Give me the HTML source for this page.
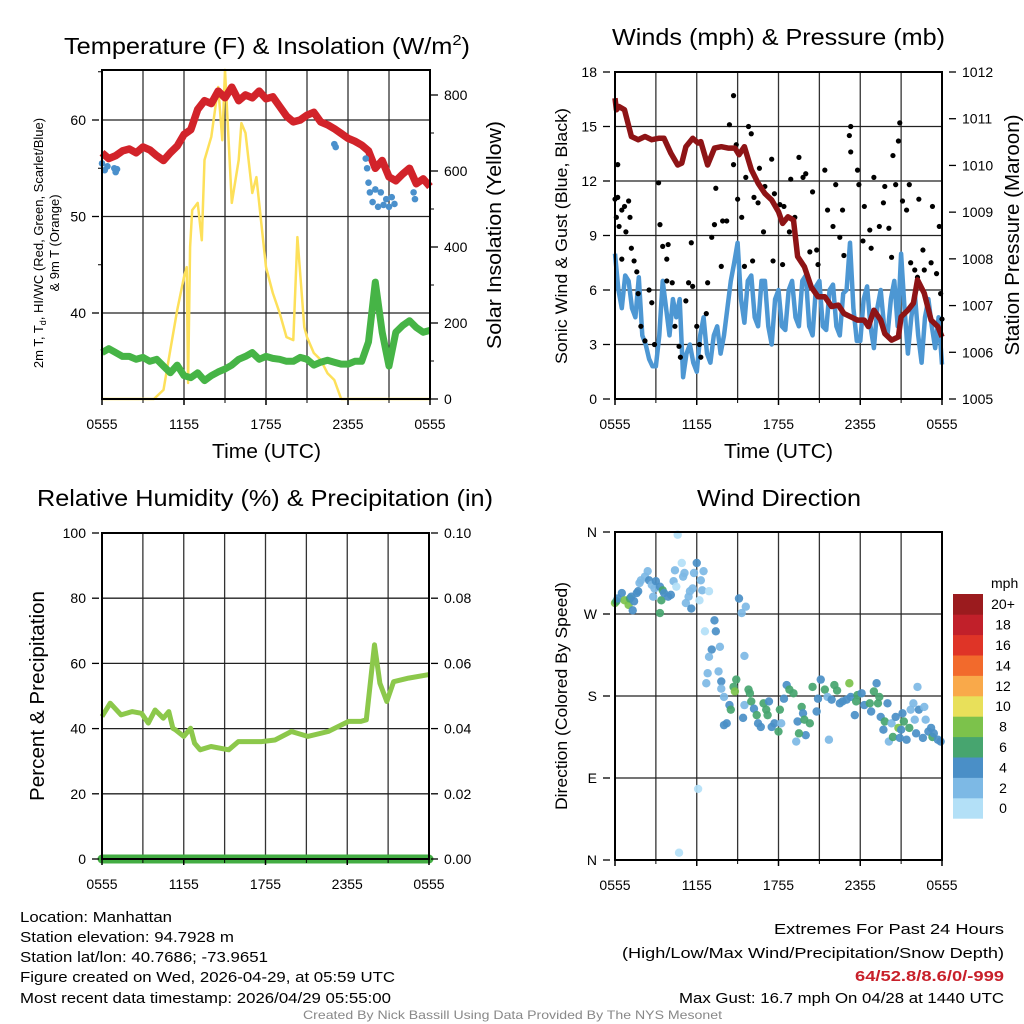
<!DOCTYPE html>
<html><head><meta charset="utf-8"><style>
html,body{margin:0;padding:0;background:#fff}
svg{display:block;font-family:"Liberation Sans",sans-serif}
</style></head><body>
<svg id="chart" width="1024" height="1024" viewBox="0 0 1024 1024" xmlns="http://www.w3.org/2000/svg">
<rect width="1024" height="1024" fill="#fff"/>
<g id="p1"></g>
<g id="p2"></g>
<g id="p3"></g>
<g id="p4"></g>
<g font-size="15" fill="#000">
<text x="20" y="922" textLength="152" lengthAdjust="spacingAndGlyphs">Location: Manhattan</text>
<text x="20" y="942" textLength="214" lengthAdjust="spacingAndGlyphs">Station elevation: 94.7928 m</text>
<text x="20" y="962" textLength="248" lengthAdjust="spacingAndGlyphs">Station lat/lon: 40.7686; -73.9651</text>
<text x="20" y="982" textLength="375" lengthAdjust="spacingAndGlyphs">Figure created on Wed, 2026-04-29, at 05:59 UTC</text>
<text x="20" y="1003" textLength="371" lengthAdjust="spacingAndGlyphs">Most recent data timestamp: 2026/04/29 05:55:00</text>
<text x="774" y="934" textLength="230" lengthAdjust="spacingAndGlyphs">Extremes For Past 24 Hours</text>
<text x="622" y="958" textLength="382" lengthAdjust="spacingAndGlyphs">(High/Low/Max Wind/Precipitation/Snow Depth)</text>
<text x="855" y="981" textLength="149" lengthAdjust="spacingAndGlyphs" fill="#c8202a" font-weight="bold">64/52.8/8.6/0/-999</text>
<text x="679" y="1003" textLength="325" lengthAdjust="spacingAndGlyphs">Max Gust: 16.7 mph On 04/28 at 1440 UTC</text>
<text x="303" y="1019" font-size="12" fill="#888" textLength="419" lengthAdjust="spacingAndGlyphs">Created By Nick Bassill Using Data Provided By The NYS Mesonet</text>
</g>
</svg>
<script>
// ---------- data ----------
const xTickLabels = ["0555","1155","1755","2355","0555"];
const tempRed = [56.6,56.0,56.3,56.8,57.0,56.6,57.2,56.9,56.3,55.8,56.6,57.3,58.5,59.0,61.1,62.0,61.7,63.0,62.3,63.4,62.0,62.6,62.3,63.0,62.2,62.4,61.4,60.4,59.8,60.0,60.5,60.8,59.8,59.5,59.1,58.6,58.1,57.8,57.4,56.8,55.0,55.8,54.1,53.7,54.4,55.0,53.4,53.9,53.1];
const hiwcGreen = [35.9,36.3,35.9,35.5,35.5,35.2,35.4,35.0,35.2,34.5,33.8,34.6,33.5,33.3,33.8,33.0,33.5,33.9,34.2,34.6,35.2,35.5,35.9,35.2,35.5,35.3,35.2,35.0,35.0,35.4,35.2,34.6,34.9,35.1,34.9,34.7,34.7,35.0,35.0,37.0,43.2,38.0,34.5,38.0,38.7,39.2,38.5,38.0,38.2];
const dewTimes = [0,0.2,0.4,0.9,1.0,1.1,17.0,17.1,19.3,19.4,19.5,19.6,19.8,20.0,20.2,20.4,20.6,20.8,21.0,21.2,21.4,22.8,22.9];
const dewVals = [55.5,54.8,55.2,55.0,54.6,54.9,57.5,57.2,56.0,55.0,53.5,52.5,51.5,52.8,51.0,52.5,51.2,51.8,51.0,52.0,51.3,52.5,51.8];
const solarTimes = [0,3.8,4.5,5.0,5.5,6.0,6.2,6.3,6.45,6.6,7.0,7.3,7.5,8.0,8.5,8.8,9.0,9.5,10.0,10.2,10.5,11.0,11.3,12.0,12.5,13.0,13.5,14.0,14.3,14.8,15.0,15.5,16.0,16.5,17.0,17.5,24];
const solarVals = [0,0,24,129,234,321,347,42,400,497,516,418,629,690,821,681,866,516,629,726,700,542,584,347,279,226,163,155,426,189,163,121,103,68,50,0,0];
const windVals = [8.0,6.0,5.0,6.8, 6.5,5.0,4.5,6.7, 3.5,3.0,2.2,1.8, 1.8,3.5,6.5,5.0, 3.5,5.5,4.5,5.5, 1.2,2.5,3.0,2.0, 1.5,3.5,4.5,2.5, 2.0,3.5,4.0,2.5, 3.5,5.0,6.5,7.5, 8.6,5.5,4.2,6.5, 6.8,4.5,4.0,6.5, 6.5,4.0,3.0,5.5, 6.0,4.0,3.8,6.0, 6.5,4.5,4.0,6.5, 6.8,4.0,3.5,6.2, 6.5,4.0,3.8,6.0, 6.3,4.0,3.5,5.8, 6.0,8.6,5.0,3.2, 3.2,5.5,6.2,4.0, 2.8,5.0,6.0,4.0, 3.5,5.5,6.5,4.0, 8.0,5.0,2.5,4.5, 5.8,3.5,2.0,4.5, 5.5,4.0,2.8,4.5, 1.9];
const gustTimes = [0.0,0.1,0.2,0.3,0.5,0.2,0.7,1.0,1.1,0.8,0.5,1.2,1.4,1.6,1.7,1.9,2.2,2.5,2.7,2.9,3.2,3.3,3.5,3.8,3.9,3.8,4.2,4.4,4.7,4.8,5.2,5.4,5.6,5.7,6.0,6.2,6.3,6.7,6.8,7.1,7.3,7.4,7.8,7.9,8.2,8.4,8.7,8.7,8.9,9.0,9.3,9.5,9.6,9.8,10.0,10.1,10.2,10.5,10.6,10.9,11.0,11.5,11.6,11.7,12.1,12.3,12.4,12.8,12.9,13.2,13.5,13.8,14.0,14.3,14.5,14.8,14.9,15.4,15.6,16.0,16.2,16.5,16.7,16.8,17.2,17.3,17.3,17.8,17.9,18.2,18.3,18.7,18.8,19.0,19.4,19.7,19.8,20.1,20.3,20.4,20.6,20.8,20.9,21.1,21.4,21.6,21.7,22.0,22.2,22.3,22.6,22.7,23.2,23.3,23.6,23.8,23.9,24.0];
const gustVals = [11.0,10.0,11.1,9.5,10.4,12.9,10.6,10.9,10.0,9.2,7.7,8.3,7.6,7.0,5.8,4.0,3.2,6.0,5.3,3.0,11.9,9.6,8.4,7.7,8.5,6.5,6.4,4.0,2.9,2.3,5.4,6.4,8.6,6.2,4.0,3.0,2.3,4.7,6.4,8.9,9.6,11.6,7.3,9.8,9.8,15.1,12.9,16.7,14.0,11.0,10.0,7.3,12.2,15.0,14.6,7.6,11.1,10.8,12.7,9.2,11.7,13.2,7.6,11.3,10.7,7.4,10.6,9.2,12.1,10.0,13.3,12.2,12.4,8.1,11.4,8.2,7.4,12.6,10.4,9.5,11.8,8.9,10.4,7.9,14.5,15.0,13.6,12.6,11.8,8.7,10.6,9.3,8.3,12.2,9.5,10.8,11.7,9.4,7.8,13.4,11.8,14.2,15.2,10.9,10.4,11.8,7.5,7.1,6.7,11.0,8.2,7.1,7.5,10.6,6.9,9.5,5.8,4.4];
const presTimes = [0,0.1,0.3,0.7,1.2,1.7,2.2,2.7,3.2,3.6,4.1,4.6,4.9,5.2,5.7,6.1,6.3,6.8,7.3,7.8,8.3,8.8,9.1,9.5,10.0,10.5,11.0,11.5,12.0,12.3,12.7,13.1,13.4,13.9,14.4,14.9,15.4,15.9,16.4,16.8,17.3,17.8,18.3,18.6,19.0,19.5,19.8,20.3,20.8,21.0,21.5,21.9,22.2,22.7,23.2,23.7,24.0];
const presVals = [1011.44,1011.19,1011.26,1011.19,1010.62,1010.55,1010.62,1010.55,1010.58,1010.58,1010.26,1010.01,1010.05,1010.40,1010.58,1010.48,1010.51,1010.01,1010.37,1010.40,1010.37,1010.37,1010.23,1010.40,1009.91,1009.62,1009.40,1009.26,1009.01,1008.76,1008.90,1008.83,1008.05,1007.83,1007.40,1007.19,1007.19,1006.98,1007.01,1006.83,1006.76,1006.69,1006.69,1006.55,1006.90,1006.69,1006.40,1006.26,1006.33,1006.76,1006.90,1007.05,1007.55,1007.26,1006.69,1006.55,1006.33];
const rhTimes = [0,0.6,1.4,2.2,2.9,3.4,3.9,4.5,4.9,5.2,5.4,6.0,6.5,6.8,7.2,8.0,9.3,10.0,11.7,12.7,13.9,15.1,16.6,18.1,19.0,19.4,20.0,20.4,20.9,21.4,22.5,23.9,24.0];
const rhVals = [43.7,47.8,44.2,45.2,44.7,41.7,45.7,43.2,45.2,40.1,39.6,37.6,40.1,35.5,33.5,34.5,33.5,36.0,36.0,36.5,39.1,37.6,39.1,42.2,42.2,42.7,65.7,53.9,48.3,54.4,55.5,56.5,56.5];
const precipVals = [0,0];
const dirTimes = [0.0,0.1,0.2,0.5,0.7,1.0,1.1,1.2,1.3,1.4,1.6,1.7,1.8,1.9,2.2,2.4,2.5,2.7,2.8,2.9,3.0,3.3,3.4,3.3,3.5,3.6,3.9,4.1,4.3,4.4,4.5,4.6,4.9,5.0,5.1,5.2,5.4,5.5,5.6,5.7,5.8,6.0,6.2,6.4,6.5,6.3,6.9,6.6,7.3,7.4,7.1,7.7,6.9,9.5,6.8,6.7,7.6,7.8,7.8,8.0,8.4,8.5,8.2,8.0,8.7,8.8,8.9,9.1,9.3,9.6,9.5,9.4,9.8,9.9,10.0,10.2,10.4,10.5,10.7,10.9,11.1,11.2,11.3,11.5,11.7,12.0,12.2,12.1,12.4,12.6,12.8,13.1,13.3,13.4,13.7,13.8,13.9,14.0,14.3,13.5,14.5,14.8,14.9,15.1,15.4,15.6,15.7,15.9,16.1,16.3,16.5,16.7,17.0,17.2,17.3,17.6,17.7,17.8,18.1,18.3,18.7,18.8,19.0,19.2,19.3,19.4,19.5,19.7,19.8,20.0,20.1,20.3,20.4,20.6,20.8,20.9,21.0,21.1,21.2,21.4,21.6,21.7,21.9,22.0,22.1,22.2,22.3,22.6,22.7,22.8,23.0,23.2,23.3,23.4,23.7,23.9,6.1,4.7];
const dirDegs = [282,284,287,293,285,280,287,289,274,284,293,295,304,307,311,317,307,302,289,298,306,300,285,271,296,293,289,291,306,318,300,357,326,311,315,282,289,295,276,298,315,326,285,296,317,307,295,251,263,251,231,234,223,224,205,194,207,196,188,179,170,165,150,148,190,185,198,287,271,278,170,156,187,183,174,166,159,150,146,172,165,159,174,146,150,141,150,165,177,192,187,183,130,152,168,161,154,137,150,139,190,163,177,198,187,179,132,176,192,186,172,174,176,194,179,159,174,181,183,170,172,163,185,194,172,179,157,143,152,172,130,150,135,157,145,134,143,161,152,132,145,165,172,154,139,190,165,134,168,154,141,145,135,139,132,130,78,8];
const dirSpeeds = [9,7,5,5,9,9,7,5,5,5,5,5,3,3,3,3,5,3,3,3,5,5,7,7,7,5,5,5,3,3,1,1,1,3,3,3,3,3,5,3,3,5,1,3,3,3,1,1,5,5,5,3,3,3,3,3,3,5,3,3,5,7,5,5,7,9,7,5,3,3,3,5,7,7,7,5,7,5,5,7,7,7,5,5,5,7,3,7,5,5,7,7,3,5,7,5,7,5,7,7,7,5,5,5,7,3,3,5,7,7,5,5,5,9,5,5,7,7,5,5,7,5,7,5,7,7,5,5,7,5,3,3,7,5,9,5,5,5,7,5,7,3,3,3,5,3,5,5,3,3,5,5,7,5,5,5,1,1];
const cbLabels = ["0","2","4","6","8","10","12","14","16","18","20+"];
const cbColors = ["#b3e0f7","#7db9e5","#4a8fc7","#47a56f","#7cc24b","#e8e05a","#f9a94a","#f26a2c","#df3427","#c1202a","#9b1b1e"];

// ---------- helpers ----------
const NS="http://www.w3.org/2000/svg";
function mk(parent, tag, attrs, text){
  const e=document.createElementNS(NS,tag);
  for(const k in attrs) e.setAttribute(k,attrs[k]);
  if(text!==undefined) e.textContent=text;
  parent.appendChild(e); return e;
}
function lin(d0,d1,r0,r1){return v=>r0+(v-d0)/(d1-d0)*(r1-r0);}
function pathFrom(xs,ys,sx,sy){return xs.map((t,i)=>(i?"L":"M")+sx(t).toFixed(1)+","+sy(ys[i]).toFixed(1)).join("");}
function idx(arr){return arr.map((_,i)=>i*24/(arr.length-1));}

function frame(g,L,R,T,B,vLines,hLines){
  vLines.forEach(x=>{const l=mk(g,"line",{x1:x,x2:x,y1:T,y2:B,stroke:"#333","stroke-width":1.3});
    
    });
  hLines.forEach(y=>{const l=mk(g,"line",{x1:L,x2:R,y1:y,y2:y,stroke:"#222","stroke-width":1.3});
    
    });
}
function border(g,L,R,T,B){
  const r=mk(g,"rect",{x:L,y:T,width:R-L,height:B-T,fill:"none",stroke:"#000","stroke-width":2});
  
  
}
function xAxis(g,L,R,B){
  const sx=lin(0,24,L,R);
  xTickLabels.forEach((lab,i)=>{
    const x=sx(i*6);
    mk(g,"line",{x1:x,x2:x,y1:B,y2:B+6,stroke:"#000","stroke-width":1.5});
    const t=mk(g,"text",{x:x,y:B+30,"font-size":14,"text-anchor":"middle"},lab);
    
    
  });
  for(let h=3;h<24;h+=6){const x=sx(h);mk(g,"line",{x1:x,x2:x,y1:B,y2:B+4,stroke:"#000","stroke-width":1});}
}
function yLabels(g,vals,labs,sy,x,anchor,side){
  vals.forEach((v,i)=>{
    const y=sy(v);
    const x0=side==="left"?x+6:x-6;
    mk(g,"line",{x1:x0,x2:side==="left"?x0+7:x0-7,y1:y,y2:y,stroke:"#000","stroke-width":1.3});
    const t=mk(g,"text",{x:x,y:y+5,"font-size":14,"text-anchor":anchor},labs[i]);
    
    
  });
}
function title(g,txt,x,y,len,size,name){
  const t=mk(g,"text",{x:x,y:y,"font-size":size,textLength:len,lengthAdjust:"spacingAndGlyphs"},txt);
  
  
  return t;
}
function vTitle(g,txt,cx,cy,size,len,name){
  const t=mk(g,"text",{x:0,y:0,"font-size":size,"text-anchor":"middle",transform:`translate(${cx},${cy}) rotate(-90)`},txt);
  if(len){t.setAttribute("textLength",len);t.setAttribute("lengthAdjust","spacingAndGlyphs");}
  
  
}
function grid8(L,R){const a=[];for(let i=1;i<8;i++)a.push(L+(R-L)*i/8);return a;}

// ---------- panel 1 ----------
(function(){
  const g=document.getElementById("p1");
  const L=102,R=430,T=70,B=399;
  const sx=lin(0,24,L,R), sy=lin(40,60,313,120), ss=lin(0,800,399,95);
  frame(g,L,R,T,B,grid8(L,R),[sy(60),sy(50),sy(40)]);
  const t=mk(g,"text",{x:64,y:54,"font-size":23,textLength:406,lengthAdjust:"spacingAndGlyphs"});
  
  
  t.innerHTML='Temperature (F) &amp; Insolation (W/m<tspan dy="-9" font-size="15">2</tspan><tspan dy="9">)</tspan>';
  const sol=mk(g,"path",{d:pathFrom(solarTimes,solarVals,sx,ss),fill:"none",stroke:"#fde05a","stroke-width":2.5,"stroke-linejoin":"round"});
  
  
  const gr=mk(g,"path",{d:pathFrom(idx(hiwcGreen),hiwcGreen,sx,sy),fill:"none",stroke:"#46b446","stroke-width":7,"stroke-linejoin":"round"});
  
  
  const rd=mk(g,"path",{d:pathFrom(idx(tempRed),tempRed,sx,sy),fill:"none",stroke:"#d2232a","stroke-width":7.5,"stroke-linejoin":"round"});
  
  
  dewTimes.forEach((tt,i)=>{
    const c=mk(g,"circle",{cx:sx(tt),cy:sy(dewVals[i]),r:3.3,fill:"#4a90cc"});
    
    
  });
  border(g,L,R,T,B);
  xAxis(g,L,R,B);
  yLabels(g,[40,50,60],["40","50","60"],sy,86,"end","left");
  yLabels(g,[0,200,400,600,800],["0","200","400","600","800"],ss,444,"start","right");
  for(let v=45;v<=65;v+=10) mk(g,"line",{x1:L-4,x2:L,y1:sy(v),y2:sy(v),stroke:"#000"});
  for(let v=100;v<=800;v+=200) mk(g,"line",{x1:R,x2:R+4,y1:ss(v),y2:ss(v),stroke:"#000"});
  title(g,"Time (UTC)",212,458,109,20,"x-axis-title");
  const y1=mk(g,"text",{x:0,y:0,"font-size":13,"text-anchor":"middle",transform:"translate(43,243) rotate(-90)"});
  
  
  y1.innerHTML='2m T, T<tspan dy="3" font-size="9">d</tspan><tspan dy="-3">, HI/WC (Red, Green, Scarlet/Blue)</tspan>';
  vTitle(g,"& 9m T (Orange)",59,243,13,null,"left-y-axis-title-line2");
  vTitle(g,"Solar Insolation (Yellow)",501,235,20,228,"right-y-axis-title");
})();

// ---------- panel 2 ----------
(function(){
  const g=document.getElementById("p2");
  const L=615,R=942,T=72,B=399;
  const sx=lin(0,24,L,R), sy=lin(0,18,399,72), sp=lin(1005,1012,399,72);
  frame(g,L,R,T,B,grid8(L,R),[3,6,9,12,15].map(sy));
  title(g,"Winds (mph) & Pressure (mb)",612,45,333,23,"winds-title");
  const wl=mk(g,"path",{d:pathFrom(idx(windVals),windVals,sx,sy),fill:"none",stroke:"#4d97d3","stroke-width":4.5,"stroke-linejoin":"round"});
  
  
  gustTimes.forEach((tt,i)=>{
    const c=mk(g,"circle",{cx:sx(tt),cy:sy(gustVals[i]),r:2.6,fill:"#000"});
    
    
  });
  const pl=mk(g,"path",{d:pathFrom(presTimes,presVals,sx,sp),fill:"none",stroke:"#8e1416","stroke-width":5.5,"stroke-linejoin":"round"});
  
  
  border(g,L,R,T,B);
  xAxis(g,L,R,B);
  yLabels(g,[0,3,6,9,12,15,18],["0","3","6","9","12","15","18"],sy,597,"end","left");
  const pv=[1005,1006,1007,1008,1009,1010,1011,1012];
  yLabels(g,pv,pv.map(String),sp,962,"start","right");
  title(g,"Time (UTC)",724,458,109,20,"x-axis-title");
  vTitle(g,"Sonic Wind & Gust (Blue, Black)",567,236,17,256,"left-y-axis-title");
  vTitle(g,"Station Pressure (Maroon)",1019,235,20,241,"right-y-axis-title");
})();

// ---------- panel 3 ----------
(function(){
  const g=document.getElementById("p3");
  const L=102,R=429,T=533,B=859;
  const sx=lin(0,24,L,R), sy=lin(0,100,859,533), spr=lin(0,0.1,859,533);
  frame(g,L,R,T,B,grid8(L,R),[20,40,60,80].map(sy));
  title(g,"Relative Humidity (%) & Precipitation (in)",37,506,456,23,"humidity-title");
  const rl=mk(g,"path",{d:pathFrom(rhTimes,rhVals,sx,sy),fill:"none",stroke:"#8cc84b","stroke-width":5,"stroke-linejoin":"round"});
  
  
  const pr=mk(g,"path",{d:pathFrom([0,24],precipVals,sx,spr),fill:"none",stroke:"#43ad43","stroke-width":9,"stroke-linecap":"round"});
  
  
  border(g,L,R,T,B);
  xAxis(g,L,R,B);
  yLabels(g,[0,20,40,60,80,100],["0","20","40","60","80","100"],sy,86,"end","left");
  const pv=[0,0.02,0.04,0.06,0.08,0.1];
  yLabels(g,pv,["0.00","0.02","0.04","0.06","0.08","0.10"],spr,444,"start","right");
  vTitle(g,"Percent & Precipitation",44,696,20,210,"left-y-axis-title");
})();

// ---------- panel 4 ----------
(function(){
  const g=document.getElementById("p4");
  const L=615,R=942,T=532,B=860;
  const sx=lin(0,24,L,R), sy=lin(0,360,860,532);
  frame(g,L,R,T,B,grid8(L,R),[90,180,270].map(sy));
  title(g,"Wind Direction",697,506,164,23,"wind-direction-title");
  dirTimes.forEach((tt,i)=>{
    const k=Math.min(10,Math.max(0,Math.floor(dirSpeeds[i]/2)));
    const c=mk(g,"circle",{cx:sx(tt),cy:sy(dirDegs[i]),r:4.2,fill:cbColors[k],"fill-opacity":0.92});
    
    
  });
  border(g,L,R,T,B);
  xAxis(g,L,R,B);
  yLabels(g,[0,90,180,270,360],["N","E","S","W","N"],sy,597,"end","left");
  vTitle(g,"Direction (Colored By Speed)",567,696,17,228,"left-y-axis-title");
  const cb=mk(g,"g",{});
  
  
  const top=594,h=20.4;
  const u=mk(cb,"text",{x:991,y:588,"font-size":14},"mph");
  
  
  cbColors.forEach((col,i)=>{
    const y=top+(10-i)*h;
    const r=mk(cb,"rect",{x:953,y:y,width:30,height:h+0.3,fill:col});
    
    
    const t=mk(cb,"text",{x:1003,y:y+h/2+5,"font-size":14,"text-anchor":"middle"},cbLabels[i]);
    
    
  });
})();
</script>
</body></html>
